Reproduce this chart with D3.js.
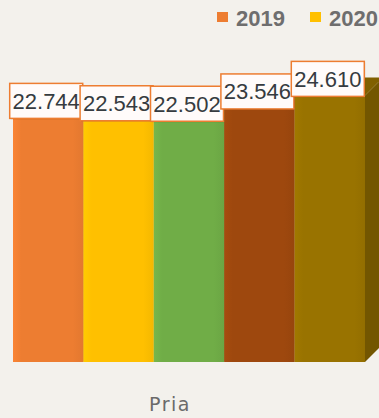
<!DOCTYPE html>
<html>
<head>
<meta charset="utf-8">
<script src="https://cdn.jsdelivr.net/npm/d3@7"></script>
<style>
  html, body { margin: 0; padding: 0; background: #F3F1EC; }
  svg { display: block; }
</style>
</head>
<body>
<div id="chart"></div>
<script>
const categories = ["Pria"];
const seriesNames = ["2019", "2020", "2021", "2022", "2023"];
const seriesValues = [22.744, 22.543, 22.502, 23.546, 24.610];
const valueLabels = ["22.744", "22.543", "22.502", "23.546", "24.610"];
const seriesColors = ["#ED7D31", "#FFC000", "#70AD47", "#9E480E", "#997300"];

const W = 379, H = 418;
const svg = d3.select("#chart").append("svg").attr("width", W).attr("height", H);
svg.append("rect").attr("width", W).attr("height", H).attr("fill", "#F3F1EC");

const x0 = d3.scaleBand().domain(categories).range([13, 365]).padding(0);
const x1 = d3.scaleBand().domain(seriesNames).range([0, x0.bandwidth()]).padding(0);
const y = d3.scaleLinear().domain([2, 26]).range([362, 79]);
const depth = 18;

const defs = svg.append("defs");
seriesColors.forEach((c, i) => {
  const g = defs.append("linearGradient").attr("id", "g" + i).attr("x1", "0").attr("x2", "1").attr("y1", "0").attr("y2", "0");
  const base = d3.color(c);
  g.append("stop").attr("offset", "0%").attr("stop-color", base.brighter(0.15));
  g.append("stop").attr("offset", "12%").attr("stop-color", base);
  g.append("stop").attr("offset", "85%").attr("stop-color", base);
  g.append("stop").attr("offset", "100%").attr("stop-color", base.darker(0.12));
});

const data = seriesNames.map((s, i) => ({ s, v: seriesValues[i], lab: valueLabels[i], c: seriesColors[i], i }));
const cat = categories[0];

const bars = svg.append("g");
data.forEach(d => {
  const bx = x0(cat) + x1(d.s), bw = x1.bandwidth();
  const top = y(d.v), bot = y.range()[0];
  const g = bars.append("g");
  // side face
  g.append("path")
    .attr("d", `M${bx + bw},${top} L${bx + bw + depth},${top - depth} L${bx + bw + depth},${bot - depth} L${bx + bw},${bot} Z`)
    .attr("fill", d3.color(d.c).darker(0.8));
  // top face
  g.append("path")
    .attr("d", `M${bx},${top} L${bx + depth},${top - depth} L${bx + bw + depth},${top - depth} L${bx + bw},${top} Z`)
    .attr("fill", d3.color(d.c).darker(0.5));
  // front
  g.append("rect").attr("x", bx).attr("y", top).attr("width", bw).attr("height", bot - top)
    .attr("fill", `url(#g${d.i})`);
});

// value labels
const labels = svg.append("g");
data.forEach(d => {
  const cx = x0(cat) + x1(d.s) + x1.bandwidth() / 2 - 2;
  const top = y(d.v);
  const bwid = 73, bh = 35;
  const g = labels.append("g").attr("transform", `translate(${cx - bwid / 2},${top - bh + 1})`);
  g.append("rect").attr("x", 1).attr("y", 1).attr("width", bwid).attr("height", bh).attr("fill", "rgba(0,0,0,0.12)");
  g.append("rect").attr("width", bwid).attr("height", bh).attr("fill", "#FFFBFA")
    .attr("stroke", "#ED7D31").attr("stroke-width", 1.5);
  g.append("text").attr("x", bwid / 2).attr("y", bh / 2 + 8)
    .attr("text-anchor", "middle")
    .attr("font-family", "Liberation Sans, Arial, sans-serif")
    .attr("font-size", 22).attr("fill", "#363B40")
    .text(d.lab);
});

// legend (items beyond the visible area are not drawn)
const legend = svg.append("g");
seriesNames.forEach((s, i) => {
  const lx = 217 + i * 93;
  if (lx > W) return;
  legend.append("rect").attr("x", lx).attr("y", 12).attr("width", 11).attr("height", 10).attr("fill", seriesColors[i]);
  legend.append("text").attr("x", lx + 19).attr("y", 26)
    .attr("font-family", "Liberation Sans, Arial, sans-serif")
    .attr("font-size", 22).attr("font-weight", "bold").attr("fill", "#6E6E6E")
    .text(s);
});

// category axis label
svg.append("text").attr("x", 170).attr("y", 411)
  .attr("text-anchor", "middle")
  .attr("font-family", "DejaVu Sans, sans-serif")
  .attr("font-size", 19).attr("letter-spacing", 1.5).attr("fill", "#6A6A6A")
  .text(categories[0]);
</script>
</body>
</html>
